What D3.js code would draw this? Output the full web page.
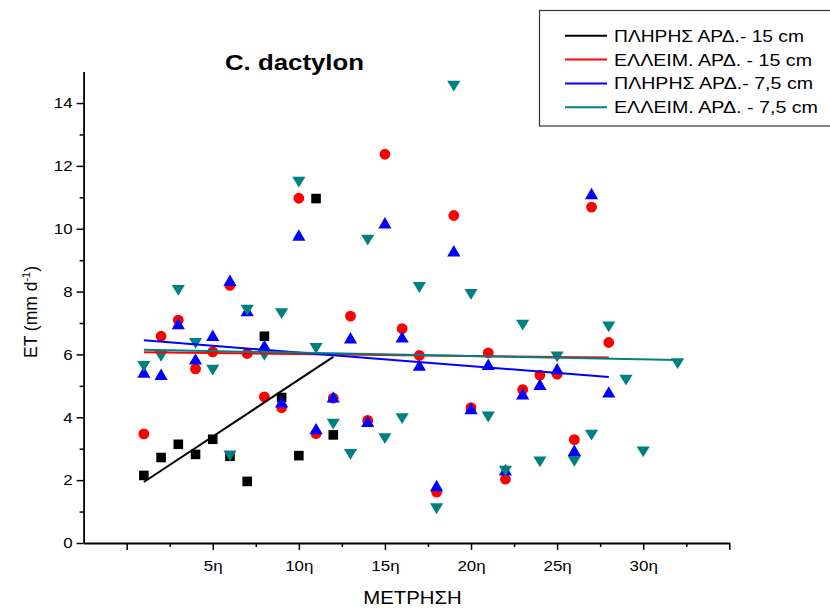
<!DOCTYPE html>
<html>
<head>
<meta charset="utf-8">
<script src="https://cdn.jsdelivr.net/npm/d3@7"></script>
<style>
  html, body { margin: 0; padding: 0; background: #fff; }
  svg { display: block; }
  text { font-family: "Liberation Sans", Arial, Helvetica, sans-serif; fill: #000; }
</style>
</head>
<body>
<svg id="chart" width="830" height="609"></svg>
<script>
// Measurement number (x) and evapotranspiration ET in mm/d (y) for each treatment
const xFull15 = [1, 2, 3, 4, 5, 6, 7, 8, 9, 10, 11, 12];
const etFull15 = [2.15, 2.72, 3.14, 2.82, 3.30, 2.76, 1.96, 6.58, 4.63, 2.78, 10.96, 3.44];

const xDef15 = [1, 2, 3, 4, 5, 6, 7, 8, 9, 10, 11, 12, 13, 14, 15, 16, 17, 18, 19, 20, 21, 22, 23, 24, 25, 26, 27, 28];
const etDef15 = [3.47, 6.58, 7.09, 5.54, 6.08, 8.20, 6.03, 4.65, 4.31, 10.97, 3.48, 4.61, 7.22, 3.90,
                 12.37, 6.82, 5.97, 1.62, 10.42, 4.31, 6.05, 2.03, 4.88, 5.34, 5.37, 3.29, 10.69, 6.38];

const xFull75 = [1, 2, 3, 4, 5, 6, 7, 8, 9, 10, 11, 12, 13, 14, 15, 16, 17, 18, 19, 20, 21, 22, 23, 24, 25, 26, 27, 28];
const etFull75 = [5.44, 5.37, 6.98, 5.86, 6.61, 8.36, 7.40, 6.29, 4.49, 9.80, 3.64, 4.65, 6.53, 3.87,
                  10.19, 6.56, 5.66, 1.83, 9.30, 4.28, 5.69, 2.33, 4.75, 5.05, 5.55, 2.95, 11.12, 4.81];

const xDef75 = [1, 2, 3, 4, 5, 6, 7, 8, 9, 10, 11, 12, 13, 14, 15, 16, 17, 18, 19, 20, 21, 22, 23, 24, 25, 26, 27, 28, 29, 30, 32];
const etDef75 = [5.62, 5.94, 8.04, 6.35, 5.50, 2.77, 7.41, 5.97, 7.30, 11.48, 6.19, 3.78, 2.82, 9.64, 3.32, 3.96,
                 8.13, 1.09, 14.54, 7.91, 4.01, 2.29, 6.93, 2.58, 5.92, 2.60, 3.43, 6.88, 5.18, 2.90, 5.71];

// Linear fit lines: [x start, ET start, x end, ET end]
const fitFull15 = [1, 1.94, 12, 5.92];
const fitDef15 = [1, 6.07, 28, 5.90];
const fitFull75 = [1, 6.45, 28, 5.28];
const fitDef75 = [1, 6.15, 32, 5.82];

const seriesNames = ["ΠΛΗΡΗΣ ΑΡΔ.- 15 cm", "ΕΛΛΕΙΜ. ΑΡΔ. - 15 cm", "ΠΛΗΡΗΣ ΑΡΔ.- 7,5 cm", "ΕΛΛΕΙΜ. ΑΡΔ. - 7,5 cm"];
const seriesColors = ["#000000", "#ff0000", "#0000ff", "#008080"];
const seriesSymbols = ["square", "circle", "triangleUp", "triangleDown"];

const xMajorTicks = [0, 5, 10, 15, 20, 25, 30, 35];
const xMinorTicks = [2.5, 7.5, 12.5, 17.5, 22.5, 27.5, 32.5];
const xTickLabels = ["", "5η", "10η", "15η", "20η", "25η", "30η", ""];
const yMajorTicks = [0, 2, 4, 6, 8, 10, 12, 14];
const yMinorTicks = [1, 3, 5, 7, 9, 11, 13];

const chartTitle = "C. dactylon";
const xTitle = "ΜΕΤΡΗΣΗ";

const svg = d3.select("#chart");
const STRETCH = 1.13;

const x = d3.scaleLinear().domain([-2.5, 35]).range([83.6, 729.3]);
const y = d3.scaleLinear().domain([0, 15]).range([543, 71.6]);

function stretchText(sel, factor) {
  sel.each(function () {
    const w = this.getComputedTextLength();
    if (w > 0) {
      d3.select(this).attr("textLength", w * factor).attr("lengthAdjust", "spacingAndGlyphs");
    }
  });
}

// Axes
const axisG = svg.append("g");
const xAxis = axisG.append("g").attr("transform", `translate(0,${y(0)})`)
  .call(d3.axisBottom(x).tickValues(xMajorTicks)
    .tickFormat((d, i) => xTickLabels[i]).tickSizeInner(7).tickSizeOuter(0).tickPadding(10));
const xAxisMinor = axisG.append("g").attr("transform", `translate(0,${y(0)})`)
  .call(d3.axisBottom(x).tickValues(xMinorTicks).tickFormat("").tickSizeInner(4).tickSizeOuter(0));
xAxisMinor.select(".domain").remove();

const yAxis = axisG.append("g").attr("transform", `translate(${x(-2.5)},0)`)
  .call(d3.axisLeft(y).tickValues(yMajorTicks).tickSizeInner(7).tickSizeOuter(0).tickPadding(4));
const yAxisMinor = axisG.append("g").attr("transform", `translate(${x(-2.5)},0)`)
  .call(d3.axisLeft(y).tickValues(yMinorTicks).tickFormat("").tickSizeInner(4).tickSizeOuter(0));
yAxisMinor.select(".domain").remove();

axisG.selectAll(".domain").attr("stroke", "#000").attr("stroke-width", 1.8);
axisG.selectAll(".tick line").attr("stroke", "#000").attr("stroke-width", 1.5);
axisG.selectAll(".tick text")
  .attr("font-family", "'Liberation Sans', Arial, sans-serif")
  .attr("font-size", 15).attr("fill", "#000");
stretchText(axisG.selectAll(".tick text"), STRETCH);

// Symbol paths
function symbolPath(kind) {
  switch (kind) {
    case "square": { const s = 4.8; return `M${-s},${-s}H${s}V${s}H${-s}Z`; }
    case "circle": return d3.symbol(d3.symbolCircle, 92)();
    case "triangleUp": { const w = 6.6, h = 5.7; return `M0,${-h}L${w},${h}L${-w},${h}Z`; }
    case "triangleDown": { const w = 6.6, h = 5.4; return `M0,${h}L${w},${-h}L${-w},${-h}Z`; }
  }
}

const seriesData = [
  { xs: xFull15, ys: etFull15, fit: fitFull15 },
  { xs: xDef15, ys: etDef15, fit: fitDef15 },
  { xs: xFull75, ys: etFull75, fit: fitFull75 },
  { xs: xDef75, ys: etDef75, fit: fitDef75 }
];

// Scatter markers
seriesData.forEach((s, i) => {
  const pts = s.xs.map((xv, j) => [xv, s.ys[j]]);
  svg.append("g").selectAll("path").data(pts).join("path")
    .attr("d", symbolPath(seriesSymbols[i]))
    .attr("transform", d => `translate(${x(d[0])},${y(d[1])})`)
    .attr("fill", seriesColors[i]);
});

// Fit lines
seriesData.forEach((s, i) => {
  const f = s.fit;
  svg.append("line")
    .attr("x1", x(f[0])).attr("y1", y(f[1]))
    .attr("x2", x(f[2])).attr("y2", y(f[3]))
    .attr("stroke", seriesColors[i]).attr("stroke-width", 2);
});

// Title
svg.append("text").attr("x", 294.5).attr("y", 69.5).attr("text-anchor", "middle")
  .attr("font-size", 22).attr("font-weight", "bold")
  .attr("textLength", 139).attr("lengthAdjust", "spacingAndGlyphs")
  .text(chartTitle);

// Axis titles
const xt = svg.append("text").attr("x", 412.5).attr("y", 604).attr("text-anchor", "middle")
  .attr("font-size", 18).text(xTitle);
stretchText(xt, STRETCH);

const yt = svg.append("text")
  .attr("transform", "translate(37,312) rotate(-90)")
  .attr("text-anchor", "middle").attr("font-size", 17.5);
yt.append("tspan").text("ET (mm d");
yt.append("tspan").attr("font-size", 11).attr("dy", -7).text("-1");
yt.append("tspan").attr("dy", 7).text(")");

// Legend
const legend = svg.append("g");
legend.append("rect").attr("x", 539.5).attr("y", 10.5).attr("width", 300).attr("height", 115.5)
  .attr("fill", "#fff").attr("stroke", "#333").attr("stroke-width", 1.2);
const legendBaselines = [41.7, 65.6, 89.4, 113.3];
const legendWidths = [190, 198, 199, 204];
seriesNames.forEach((name, i) => {
  const by = legendBaselines[i];
  legend.append("line").attr("x1", 565).attr("x2", 607)
    .attr("y1", by - 6).attr("y2", by - 6)
    .attr("stroke", seriesColors[i]).attr("stroke-width", 2);
  legend.append("text").attr("x", 614).attr("y", by).attr("font-size", 17)
    .attr("textLength", legendWidths[i]).attr("lengthAdjust", "spacingAndGlyphs")
    .text(name);
});
</script>
</body>
</html>
